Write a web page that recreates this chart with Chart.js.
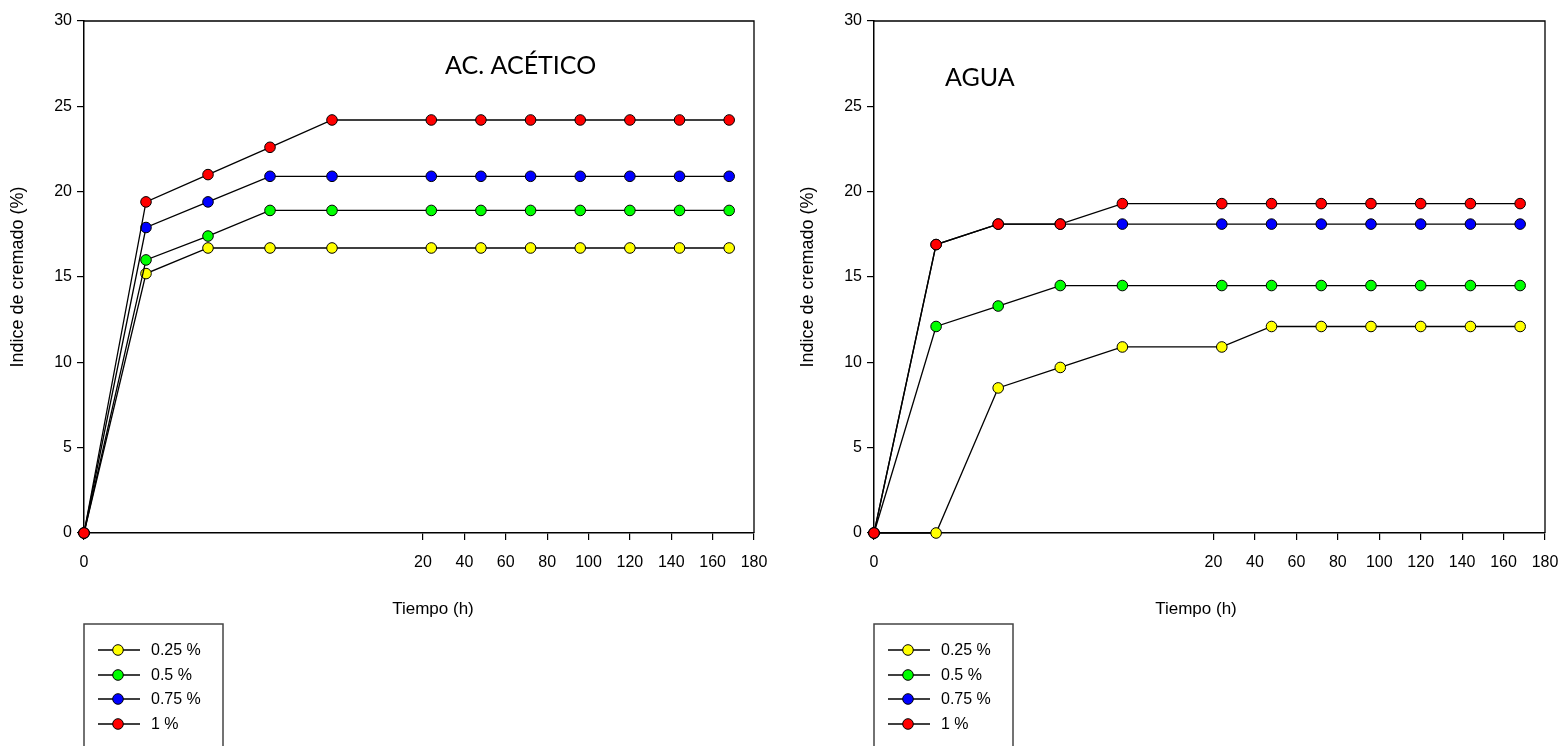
<!DOCTYPE html>
<html>
<head>
<meta charset="utf-8">
<script src="https://cdn.jsdelivr.net/npm/chart.js@4.4.1/dist/chart.umd.min.js"></script>
<style>
  body { margin: 0; background: #fff; width: 1562px; height: 746px; overflow: hidden; position: relative; }
  canvas { position: absolute; top: 0; }
  #izq { left: 0; }
  #der { left: 790px; }
</style>
</head>
<body>
<canvas id="izq" width="781" height="746"></canvas>
<canvas id="der" width="782" height="746"></canvas>
<script>
// tiempos de medida (h) y ticks
const tiempo = [0, 1, 2, 3, 4, 24, 48, 72, 96, 120, 144, 168];
const xTicks = [0, 20, 40, 60, 80, 100, 120, 140, 160, 180];
const yTicks = [0, 5, 10, 15, 20, 25, 30];

const etiquetas = ['0.25 %', '0.5 %', '0.75 %', '1 %'];
const colores = ['#ffff00', '#00ff00', '#0000ff', '#ff0000'];

// AC. ACETICO
const acetico025 = [0, 15.2, 16.7, 16.7, 16.7, 16.7, 16.7, 16.7, 16.7, 16.7, 16.7, 16.7];
const acetico05 = [0, 16.0, 17.4, 18.9, 18.9, 18.9, 18.9, 18.9, 18.9, 18.9, 18.9, 18.9];
const acetico075 = [0, 17.9, 19.4, 20.9, 20.9, 20.9, 20.9, 20.9, 20.9, 20.9, 20.9, 20.9];
const acetico1 = [0, 19.4, 21.0, 22.6, 24.2, 24.2, 24.2, 24.2, 24.2, 24.2, 24.2, 24.2];

// AGUA
const agua025 = [0, 0, 8.5, 9.7, 10.9, 10.9, 12.1, 12.1, 12.1, 12.1, 12.1, 12.1];
const agua05 = [0, 12.1, 13.3, 14.5, 14.5, 14.5, 14.5, 14.5, 14.5, 14.5, 14.5, 14.5];
const agua075 = [0, 16.9, 18.1, 18.1, 18.1, 18.1, 18.1, 18.1, 18.1, 18.1, 18.1, 18.1];
const agua1 = [0, 16.9, 18.1, 18.1, 19.3, 19.3, 19.3, 19.3, 19.3, 19.3, 19.3, 19.3];

// eje x cortado: tramo corto 0-4 h, tramo largo 20-180 h
const pasoCorto = 62 / 670;
const corte20 = 339 / 670;
const pasoLargo = (1 - corte20) / 160;

class EjeRoto extends Chart.LinearScale {
    static id = 'roto';
    static defaults = {};
    getPixelForValue(v) {
        let f = v < 20 ? v * pasoCorto : corte20 + (v - 20) * pasoLargo;
        return this.left + this.width * f;
    }
    getValueForPixel(p) {
        let f = (p - this.left) / this.width;
        if (f < corte20) return f / pasoCorto;
        return 20 + (f - corte20) / pasoLargo;
    }
}
Chart.register(EjeRoto);

Chart.defaults.font.family = "'Liberation Sans', Arial, sans-serif";
Chart.defaults.font.size = 16;
Chart.defaults.color = '#000';

const extras = {
    id: 'extras',
    afterDraw(chart, args, opts) {
        let ctx = chart.ctx;
        let a = chart.chartArea;
        ctx.save();
        // marco superior y derecho
        ctx.strokeStyle = '#000';
        ctx.lineWidth = 1.3;
        ctx.beginPath();
        ctx.moveTo(a.left, a.top);
        ctx.lineTo(a.right, a.top);
        ctx.lineTo(a.right, a.bottom);
        ctx.stroke();

        // rotulo del panel
        ctx.fillStyle = '#000';
        ctx.font = "25px Lato, 'Open Sans', sans-serif";
        ctx.textAlign = 'left';
        ctx.textBaseline = 'alphabetic';
        ctx.fillText(opts.rotulo, opts.rotuloX, opts.rotuloY);

        // titulo del eje x
        ctx.font = "17px 'Liberation Sans', Arial, sans-serif";
        ctx.textAlign = 'center';
        ctx.textBaseline = 'middle';
        ctx.fillText('Tiempo (h)', opts.tituloX, 609);

        // leyenda
        ctx.strokeStyle = '#444';
        ctx.lineWidth = 1.5;
        ctx.strokeRect(a.left, 624, 139, 140);
        let filas = [650, 675, 699, 724];
        ctx.font = "16px 'Liberation Sans', Arial, sans-serif";
        ctx.textAlign = 'left';
        for (let i = 0; i < etiquetas.length; i++) {
            let y = filas[i];
            ctx.strokeStyle = '#000';
            ctx.lineWidth = 1.3;
            ctx.beginPath();
            ctx.moveTo(a.left + 14, y);
            ctx.lineTo(a.left + 56, y);
            ctx.stroke();
            ctx.beginPath();
            ctx.arc(a.left + 34, y, 5.3, 0, Math.PI * 2);
            ctx.fillStyle = colores[i];
            ctx.fill();
            ctx.lineWidth = 1;
            ctx.stroke();
            ctx.fillStyle = '#000';
            ctx.fillText(etiquetas[i], a.left + 67, y + 1);
        }
        ctx.restore();
    }
};

function grafico(id, series, rotulo, rotuloX, rotuloY, tituloX, padDer) {
    let datasets = [];
    for (let i = 0; i < series.length; i++) {
        datasets.push({
            label: etiquetas[i],
            data: tiempo.map((t, k) => ({ x: t, y: series[i][k] })),
            borderColor: '#000',
            borderWidth: 1.3,
            pointRadius: 5.3,
            pointBorderWidth: 1,
            pointBorderColor: '#000',
            pointBackgroundColor: colores[i],
            order: series.length - 1 - i,
            clip: false
        });
    }

    let ctx = document.getElementById(id).getContext('2d');
    return new Chart(ctx, {
        type: 'line',
        data: { datasets: datasets },
        options: {
            responsive: false,
            animation: false,
            devicePixelRatio: 1,
            layout: { padding: { top: 21, right: padDer, left: 0, bottom: 0 } },
            plugins: {
                legend: { display: false },
                tooltip: { enabled: false },
                extras: { rotulo: rotulo, rotuloX: rotuloX, rotuloY: rotuloY, tituloX: tituloX }
            },
            scales: {
                x: {
                    type: 'roto',
                    min: 0,
                    max: 180,
                    afterBuildTicks: function(ax) { ax.ticks = xTicks.map(v => ({ value: v })); },
                    afterFit: function(ax) { ax.height = 213; },
                    grid: { drawOnChartArea: false, drawTicks: true, tickLength: 7, color: '#000', lineWidth: 1.2 },
                    border: { display: true, color: '#000', width: 1.5 },
                    ticks: { padding: 13, maxRotation: 0, autoSkip: false }
                },
                y: {
                    min: 0,
                    max: 30,
                    afterBuildTicks: function(ax) { ax.ticks = yTicks.map(v => ({ value: v })); },
                    afterFit: function(ax) { ax.width = 84; },
                    grid: { drawOnChartArea: false, drawTicks: true, tickLength: 7, color: '#000', lineWidth: 1.2 },
                    border: { display: true, color: '#000', width: 1.5 },
                    ticks: { padding: 5 },
                    title: {
                        display: true,
                        text: 'Indice de cremado (%)',
                        font: { size: 18 },
                        padding: { top: 7, bottom: 0 }
                    }
                }
            }
        },
        plugins: [extras]
    });
}

grafico('izq', [acetico025, acetico05, acetico075, acetico1], 'AC. ACÉTICO', 445, 74, 433, 27);
grafico('der', [agua025, agua05, agua075, agua1], 'AGUA', 155, 86, 406, 27);
</script>
</body>
</html>
